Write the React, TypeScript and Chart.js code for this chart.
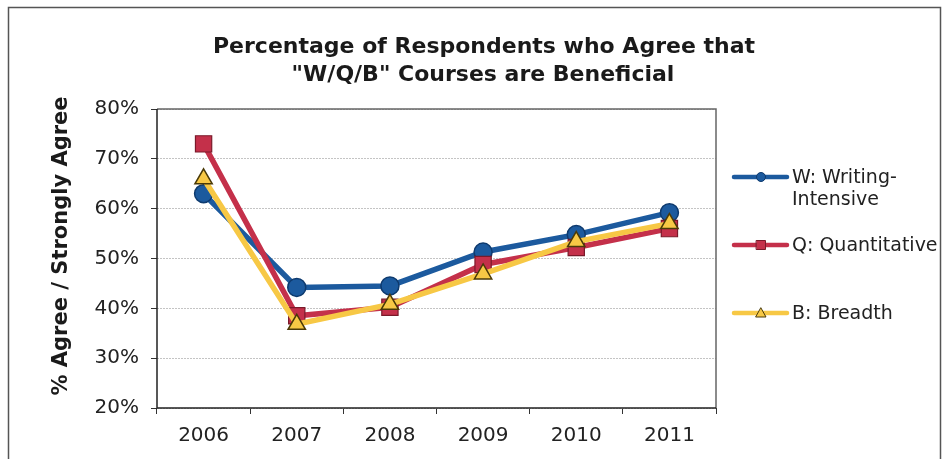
import React, { useEffect, useRef } from "react";
import { Chart, registerables } from "chart.js";

Chart.register(...registerables);

const years = ["2006", "2007", "2008", "2009", "2010", "2011"];
const writingValues = [63, 44.2, 44.5, 51.3, 54.8, 59.2];
const quantValues = [73, 38.5, 40.2, 48.8, 52.2, 56];
const breadthValues = [66, 36.8, 40.8, 46.9, 53.4, 57];
const yTicks = [20, 30, 40, 50, 60, 70, 80];

const titleLines = ["Percentage of Respondents who Agree that", "\"W/Q/B\" Courses are Beneficial"];
const yTitle = "% Agree / Strongly Agree";
const legendItems = [
  { lines: ["W: Writing-", "Intensive"], color: "#1c5a9e", border: "#0e3a6e", style: "circle" },
  { lines: ["Q: Quantitative"], color: "#c4304a", border: "#7a1a2a", style: "rect" },
  { lines: ["B: Breadth"], color: "#f7c845", border: "#4a3a08", style: "triangle" },
];

const FONT = "'DejaVu Sans', Verdana, sans-serif";

const decorPlugin = {
  id: "decor",
  beforeDraw(chart: any) {
    const ctx = chart.ctx;
    ctx.save();
    ctx.fillStyle = "#ffffff";
    ctx.fillRect(0, 0, chart.width, chart.height);
    ctx.restore();
  },
  beforeDatasetsDraw(chart: any) {
    const ctx = chart.ctx;
    const a = chart.chartArea;
    ctx.save();
    ctx.strokeStyle = "#666";
    ctx.lineWidth = 1.5;
    ctx.beginPath();
    ctx.moveTo(a.left, a.top);
    ctx.lineTo(a.right, a.top);
    ctx.lineTo(a.right, a.bottom);
    ctx.stroke();
    ctx.strokeStyle = "#222";
    ctx.beginPath();
    ctx.moveTo(a.left, a.top);
    ctx.lineTo(a.left, a.bottom);
    ctx.lineTo(a.right, a.bottom);
    ctx.stroke();
    ctx.restore();
  },
  afterDraw(chart: any) {
    const ctx = chart.ctx;
    ctx.save();
    // outer frame
    ctx.strokeStyle = "#555";
    ctx.lineWidth = 1.5;
    ctx.strokeRect(8.5, 7.5, 932, 470);
    // title
    ctx.fillStyle = "#1a1a1a";
    ctx.font = `bold 22px ${FONT}`;
    ctx.textAlign = "center";
    ctx.textBaseline = "alphabetic";
    ctx.fillText(titleLines[0], 484, 53);
    ctx.fillText(titleLines[1], 483, 81);
    // y title
    ctx.save();
    ctx.translate(62, 246);
    ctx.rotate(-Math.PI / 2);
    ctx.font = `bold 21px ${FONT}`;
    ctx.textAlign = "center";
    ctx.textBaseline = "middle";
    ctx.fillText(yTitle, 0, 0);
    ctx.restore();
    // legend
    const ys = [177, 245, 313];
    legendItems.forEach((it, i) => {
      const y = ys[i];
      ctx.strokeStyle = it.color;
      ctx.lineWidth = 4.5;
      ctx.lineCap = "round";
      ctx.beginPath();
      ctx.moveTo(734, y);
      ctx.lineTo(787, y);
      ctx.stroke();
      ctx.fillStyle = it.color;
      ctx.strokeStyle = it.border;
      ctx.lineWidth = 1;
      ctx.beginPath();
      if (it.style === "circle") {
        ctx.arc(761, y, 4.5, 0, Math.PI * 2);
      } else if (it.style === "rect") {
        ctx.rect(756.5, y - 4.5, 9, 9);
      } else {
        ctx.moveTo(761, y - 5);
        ctx.lineTo(766, y + 4);
        ctx.lineTo(756, y + 4);
        ctx.closePath();
      }
      ctx.fill();
      ctx.stroke();
      ctx.fillStyle = "#222";
      ctx.font = `19px ${FONT}`;
      ctx.textAlign = "left";
      ctx.textBaseline = "alphabetic";
      it.lines.forEach((ln, j) => ctx.fillText(ln, 792, y + 6 + j * 22));
    });
    ctx.restore();
  },
};

export default function App() {
  const ref = useRef<HTMLCanvasElement | null>(null);
  useEffect(() => {
    if (!ref.current) return;
    const chart = new Chart(ref.current, {
      type: "line",
      data: {
        labels: years,
        datasets: [
          {
            label: "W: Writing-Intensive",
            data: writingValues,
            borderColor: "#1c5a9e",
            backgroundColor: "#1c5a9e",
            pointBorderColor: "#0e3a6e",
            pointBorderWidth: 1.5,
            pointStyle: "circle",
            pointRadius: 9,
            borderWidth: 5.5,
            order: 2,
          },
          {
            label: "Q: Quantitative",
            data: quantValues,
            borderColor: "#c4304a",
            backgroundColor: "#c4304a",
            pointBorderColor: "#7a1a2a",
            pointBorderWidth: 1.2,
            pointStyle: "rect",
            pointRadius: 11.5,
            borderWidth: 5.5,
            order: 1,
          },
          {
            label: "B: Breadth",
            data: breadthValues,
            borderColor: "#f7c845",
            backgroundColor: "#f7c845",
            pointBorderColor: "#4a3a08",
            pointBorderWidth: 1.5,
            pointStyle: "triangle",
            pointRadius: 10,
            borderWidth: 5.5,
            order: 0,
          },
        ],
      },
      options: {
        responsive: false,
        animation: false,
        layout: { padding: { top: 109, right: 228, left: 0, bottom: 0 } },
        plugins: { legend: { display: false }, title: { display: false }, tooltip: { enabled: false } },
        scales: {
          x: {
            offset: true,
            grid: { drawOnChartArea: false, drawTicks: true, tickLength: 6, color: "#333", offset: true },
            border: { display: false },
            ticks: { color: "#222", font: { family: FONT, size: 20 }, padding: 10 },
            afterFit: (s: any) => { s.height = 51; },
          },
          y: {
            min: 20,
            max: 80,
            afterBuildTicks: (s: any) => { s.ticks = yTicks.map((v) => ({ value: v })); },
            grid: {
              color: "#c4c4c4",
              tickColor: "#333",
              tickLength: 6,
              drawTicks: true,
            },
            border: { display: false, dash: [2, 1] },
            ticks: {
              color: "#222",
              font: { family: FONT, size: 20 },
              padding: 12,
              callback: (v: any) => `${v}%`,
            },
            afterFit: (s: any) => { s.width = 157; },
          },
        },
      },
      plugins: [decorPlugin],
    });
    return () => chart.destroy();
  }, []);
  return (
    <div style={{ position: "fixed", left: 0, top: 0, width: 944, height: 459, background: "#fff" }}>
      <canvas ref={ref} width={944} height={459} style={{ display: "block" }} />
    </div>
  );
}
